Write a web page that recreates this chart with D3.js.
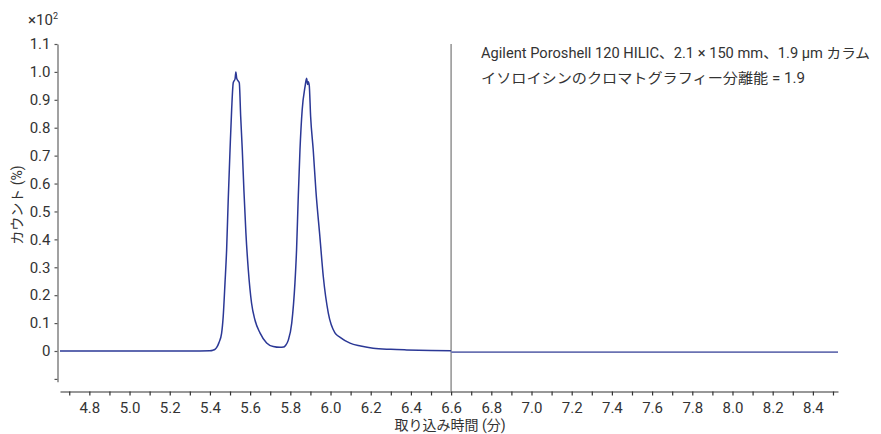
<!DOCTYPE html>
<html>
<head>
<meta charset="utf-8">
<script src="https://cdn.jsdelivr.net/npm/d3@7"></script>
<style>
  body { margin: 0; background: #fff; }
  text { font-family: Roboto, "Noto Sans CJK JP", sans-serif; fill: #333; }
</style>
</head>
<body>
<div id="chart"></div>
<script>
// retention time (min) and counts (x10^2 %)
const timeBefore = [4.654, 5.0, 5.3, 5.40, 5.415, 5.425, 5.433, 5.445, 5.458, 5.466, 5.475, 5.483, 5.491, 5.500,
    5.508, 5.516, 5.525, 5.529, 5.533, 5.538, 5.546, 5.553, 5.561, 5.569, 5.579, 5.591, 5.607, 5.624, 5.649,
    5.682, 5.715, 5.749, 5.766, 5.776, 5.790, 5.807, 5.823, 5.831, 5.839, 5.848, 5.859, 5.873, 5.881, 5.886,
    5.889, 5.894, 5.901, 5.914, 5.927, 5.947, 5.964, 5.989, 6.022, 6.048, 6.097, 6.15, 6.212, 6.30, 6.379,
    6.50, 6.60];
const countBefore = [0, 0, 0, 0.001, 0.003, 0.006, 0.012, 0.030, 0.063, 0.123, 0.244, 0.362, 0.541, 0.720,
    0.864, 0.961, 0.975, 1.0, 0.978, 0.97, 0.961, 0.840, 0.720, 0.577, 0.423, 0.290, 0.172, 0.111, 0.065,
    0.029, 0.016, 0.013, 0.014, 0.020, 0.039, 0.100, 0.244, 0.362, 0.541, 0.720, 0.864, 0.946, 0.977, 0.955,
    0.965, 0.953, 0.840, 0.720, 0.577, 0.410, 0.267, 0.136, 0.065, 0.049, 0.028, 0.018, 0.010, 0.006, 0.004,
    0.002, 0.001];
const timeAfter = [6.60, 7.0, 7.5, 8.0, 8.525];
const countAfter = [-0.004, -0.004, -0.004, -0.004, -0.004];

const xTicks = d3.range(47, 86).map(d => d / 10);
const xLabels = d3.range(24, 43).map(d => (d * 2 / 10).toFixed(1));
const yTicks = [-0.1, 0, 0.1, 0.2, 0.3, 0.4, 0.5, 0.6, 0.7, 0.8, 0.9, 1.0, 1.1];
const markerTime = 6.6;
const noteLines = ["Agilent Poroshell 120 HILIC、2.1 × 150 mm、1.9 µm カラム",
    "イソロイシンのクロマトグラフィー分離能 = 1.9"];

const W = 881, H = 434;
const svg = d3.select("#chart").append("svg").attr("width", W).attr("height", H);

const x = d3.scaleLinear().domain([4.654, 8.525]).range([60, 838]);
const y = d3.scaleLinear().domain([-0.11, 1.1]).range([381.7, 44]);

// x axis
const xAxis = svg.append("g").attr("transform", "translate(0,391.5)")
    .call(d3.axisBottom(x).tickValues(xTicks).tickSize(4).tickSizeOuter(0)
        .tickFormat(d => xLabels.includes(d.toFixed(1)) ? d.toFixed(1) : ""));
xAxis.select(".domain").attr("stroke", "#333").attr("stroke-width", 1.2);
xAxis.selectAll(".tick line").attr("stroke", "#333").attr("stroke-width", 1.2);
xAxis.selectAll(".tick text").attr("font-size", 15).attr("dy", "0.95em").style("fill", "#333");

// y axis
const yAxis = svg.append("g").attr("transform", "translate(57.5,0)")
    .call(d3.axisLeft(y).tickValues(yTicks).tickSize(3).tickSizeOuter(0)
        .tickFormat(d => d < 0 ? "" : (d === 0 ? "0" : d.toFixed(1))));
yAxis.select(".domain").attr("stroke", "#8a8a8a").attr("stroke-width", 1.6);
yAxis.selectAll(".tick line").attr("stroke", "#555").attr("stroke-width", 1.2);
yAxis.selectAll(".tick text").attr("font-size", 15).attr("x", -7).style("fill", "#333");

// marker line at 6.6 min
svg.append("line")
    .attr("x1", x(markerTime)).attr("x2", x(markerTime))
    .attr("y1", y(1.1)).attr("y2", 391)
    .attr("stroke", "#999").attr("stroke-width", 1.6);

const line = d3.line().x(d => x(d[0])).y(d => y(d[1])).curve(d3.curveMonotoneX);

svg.append("path")
    .datum(d3.zip(timeBefore, countBefore))
    .attr("fill", "none").attr("stroke", "#2b3896").attr("stroke-width", 1.5)
    .attr("stroke-linejoin", "round")
    .attr("d", line);

svg.append("path")
    .datum(d3.zip(timeAfter, countAfter))
    .attr("fill", "none").attr("stroke", "#6a72b2").attr("stroke-width", 1.8)
    .attr("d", line);

// scale factor label
const sf = svg.append("text").attr("x", 28).attr("y", 25).attr("font-size", 15);
sf.append("tspan").text("×10");
sf.append("tspan").text("2").attr("font-size", 9).attr("dy", -6);

// axis titles
svg.append("text")
    .attr("x", 450).attr("y", 430).attr("text-anchor", "middle").attr("font-size", 14)
    .text("取り込み時間 (分)");
svg.append("text")
    .attr("transform", "translate(22,205) rotate(-90)")
    .attr("text-anchor", "middle").attr("font-size", 14)
    .text("カウント (%)");

// annotation
svg.selectAll(".note")
    .data(noteLines)
    .join("text")
    .attr("class", "note")
    .attr("x", 481)
    .attr("y", (d, i) => 58 + i * 25)
    .attr("font-size", 14)
    .attr("textLength", (d, i) => i === 0 ? 389 : 324)
    .attr("lengthAdjust", "spacingAndGlyphs")
    .text(d => d);
</script>
</body>
</html>
